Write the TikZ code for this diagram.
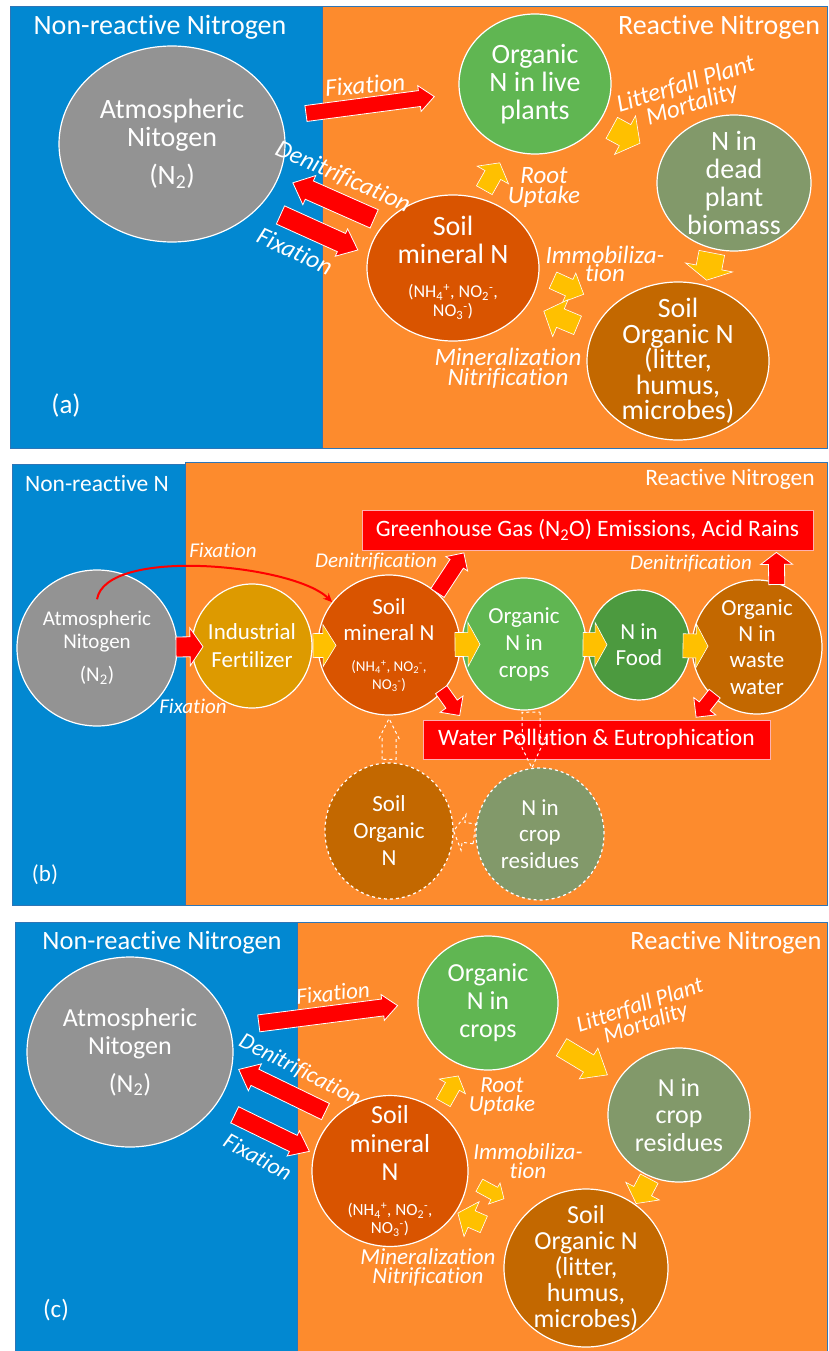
\documentclass[tikz,border=0pt]{standalone}
\usepackage{fontspec}
\setmainfont{Carlito}[Ligatures=NoCommon]
\usetikzlibrary{arrows.meta,calc,shapes.geometric}
\definecolor{nblue}{HTML}{0288D1}
\definecolor{rorange}{HTML}{FD8B2D}
\definecolor{frameblue}{HTML}{2E75B6}
\definecolor{atmgray}{HTML}{939393}
\definecolor{livegreen}{HTML}{60B652}
\definecolor{deadgreen}{HTML}{82996A}
\definecolor{minorange}{HTML}{D95400}
\definecolor{orgbrown}{HTML}{C36800}
\definecolor{fertgold}{HTML}{DD9A00}
\definecolor{foodgreen}{HTML}{4C9A3F}
\definecolor{flowred}{HTML}{FF0000}
\definecolor{flowyellow}{HTML}{FFC000}
\definecolor{boxedge}{HTML}{FFB0B0}

\newcommand\setfs[2]{\fontsize{#1}{#2}\selectfont}
% fat block arrow from one anchor to another, sizes come from the fa keys
\newcommand\flow[3][]{%
  \begin{scope}[#1]
    \coordinate (fa-a) at (#2);
    \coordinate (fa-b) at (#3);
    \coordinate (fa-s) at ($(fa-a)!\fagapa pt!(fa-b)$);
    \coordinate (fa-e) at ($(fa-b)!\fagapb pt!(fa-a)$);
    \coordinate (fa-h) at ($(fa-e)!\falen pt!(fa-s)$);
    \path[fa paint] ($(fa-s)!\fashaft pt!90:(fa-e)$) -- ($(fa-h)!\fashaft pt!90:(fa-e)$)
      -- ($(fa-h)!\fahead pt!90:(fa-e)$) -- (fa-e) -- ($(fa-h)!\fahead pt!-90:(fa-e)$)
      -- ($(fa-h)!\fashaft pt!-90:(fa-e)$) -- ($(fa-s)!\fashaft pt!-90:(fa-e)$) -- cycle;
  \end{scope}}

\begin{document}
\begin{tikzpicture}[x=1pt,y=-1pt,
  pool/.style={ellipse,draw=white,line width=1.2pt,inner sep=-12pt,text=white,align=center},
  dashpool/.style={pool,dashed},
  alertbox/.style={rectangle,draw=boxedge,line width=0.8pt,fill=flowred,text=white,inner sep=0pt},
  lbl/.style={text=white,inner sep=0pt,align=center},
  albl/.style={lbl,font=\itshape\setfs{25}{20}},
  blbl/.style={lbl,font=\itshape\setfs{21}{20}},
  clbl/.style={lbl,font=\itshape\setfs{23}{19}},
  ttl/.style={text=white,inner sep=0pt},
  fa gap1/.store in=\fagapa, fa gap2/.store in=\fagapb,
  fa shaft/.store in=\fashaft, fa head/.store in=\fahead, fa len/.store in=\falen,
  fa gap1=0, fa gap2=0, fa shaft=8, fa head=14, fa len=14,
  fa paint/.style={draw=white},
  redflow/.style={fa paint/.style={draw=white,line width=0.8pt,fill=flowred}},
  yellowflow/.style={fa paint/.style={draw=white,line width=0.6pt,fill=flowyellow}},
  dashflow/.style={fa paint/.style={draw=white,line width=1pt,dashed}}]

\useasboundingbox (0,0) rectangle (828,1351);
\fill[white] (0,0) rectangle (828,1351);

% ---------------- panel (a) ----------------
\fill[nblue] (10,7) rectangle (322,448);
\fill[rorange] (322,7) rectangle (828,448);
\draw[frameblue,line width=1pt] (10,7) rectangle (827.5,448) (322,7) -- (322,448);

\node[pool,fill=atmgray,minimum width=226pt,minimum height=196pt,font=\setfs{28}{28}] (atmA) at (172,144)
  {Atmospheric\\Nitogen\\[10pt](N\textsubscript{2})};
\node[pool,fill=livegreen,minimum width=152pt,minimum height=140pt,font=\setfs{28}{28}] (liveA) at (535,84)
  {Organic\\N in live\\plants};
\node[pool,fill=deadgreen,minimum width=154pt,minimum height=136pt,font=\setfs{28}{28}] (deadA) at (734,183)
  {N in\\dead\\plant\\biomass};
\node[pool,fill=minorange,minimum width=172pt,minimum height=146pt,font=\setfs{28}{28}] (minA) at (453,268)
  {Soil\\mineral N\\[6pt]{\setfs{18}{18}(NH\textsubscript{4}\textsuperscript{+}, NO\textsubscript{2}\textsuperscript{-},}\\[-9pt]{\setfs{18}{18}NO\textsubscript{3}\textsuperscript{-})}};
\node[pool,fill=orgbrown,minimum width=182pt,minimum height=158pt,font=\setfs{28}{25.5}] (orgA) at (678,361)
  {Soil\\Organic N\\(litter,\\humus,\\microbes)};

\flow[redflow,fa gap1=25,fa gap2=25,fa shaft=8,fa head=13,fa len=15]{atmA.14}{liveA.187}
\flow[redflow,fa gap1=11,fa gap2=15,fa shaft=10,fa head=16,fa len=18]{minA.147}{atmA.-17}
\flow[redflow,fa gap1=22,fa gap2=11,fa shaft=10,fa head=15,fa len=18]{atmA.-35}{minA.171}
\flow[yellowflow,fa gap1=13.5,fa gap2=26,fa shaft=12,fa head=22,fa len=17]{liveA.-30}{deadA.159}
\flow[yellowflow,fa gap1=9,fa gap2=15,fa shaft=9,fa head=18,fa len=14]{minA.69}{liveA.-113}
\flow[yellowflow,fa gap1=15,fa gap2=30,fa shaft=9,fa head=16,fa len=16]{minA.-4}{orgA.141}
\flow[yellowflow,fa gap1=16.5,fa gap2=17,fa shaft=10,fa head=20,fa len=18]{orgA.161}{minA.-26}
\flow[yellowflow,fa gap1=4,fa gap2=5,fa shaft=13,fa head=24,fa len=13]{deadA.-108}{orgA.70}

\node[albl,rotate=5] (fxA1) at (365,85) {Fixation};
\node[albl,rotate=-24] (dnA) at (343,177) {Denitrification};
\node[albl,rotate=-25] (fxA2) at (295,251) {Fixation};
\node[albl] (ruA) at (544,187) {Root\\Uptake};
\node[albl,rotate=17] (lfA) at (689,95) {Litterfall Plant\\Mortality};
\node[albl,font=\itshape\setfs{25}{18}] (imA) at (605,264) {Immobiliza-\\tion};
\node[albl] (mnA) at (508,368) {Mineralization\\Nitrification};

\node[ttl,font=\setfs{28}{28}] (nrA) at (160,27) {Non-reactive Nitrogen};
\node[ttl,font=\setfs{28}{28}] (rnA) at (719,27) {Reactive Nitrogen};
\node[ttl,font=\setfs{27}{27}] (tagA) at (66,405) {(a)};

% ---------------- panel (b) ----------------
\fill[nblue] (12,464) rectangle (185,905);
\fill[rorange] (185,462) rectangle (828,905);
\draw[frameblue,line width=1pt] (12,905) -- (12,464) -- (185,464) (185,905) -- (185,462) -- (827.5,462)
  -- (827.5,905) -- (12,905);

\node[alertbox,minimum width=451pt,minimum height=40pt,font=\setfs{23.5}{24}] (ghgB) at (587.5,530)
  {Greenhouse Gas (N\textsubscript{2}O) Emissions, Acid Rains};
\node[alertbox,minimum width=347pt,minimum height=39pt,font=\setfs{23.5}{24}] (waterB) at (596.5,739.5)
  {Water Pollution \& Eutrophication};

\node[pool,fill=atmgray,minimum width=160pt,minimum height=156pt,font=\setfs{21}{23}] (atmB) at (97,648)
  {Atmospheric\\Nitogen\\[10pt](N\textsubscript{2})};
\node[pool,fill=fertgold,minimum width=120pt,minimum height=124pt,font=\setfs{23}{28}] (fertB) at (252,646)
  {Industrial\\Fertilizer};
\node[pool,fill=minorange,minimum width=142pt,minimum height=140pt,font=\setfs{23}{26}] (minB) at (389,645)
  {Soil\\mineral N\\[5pt]{\setfs{15}{15}(NH\textsubscript{4}\textsuperscript{+}, NO\textsubscript{2}\textsuperscript{-},}\\[-8pt]{\setfs{15}{15}NO\textsubscript{3}\textsuperscript{-})}};
\node[pool,fill=livegreen,minimum width=124pt,minimum height=132pt,font=\setfs{23}{27}] (cropB) at (524,644)
  {Organic\\N in\\crops};
\node[pool,fill=foodgreen,minimum width=102pt,minimum height=110pt,font=\setfs{23}{26}] (foodB) at (639,645)
  {N in\\Food};
\node[pool,fill=orgbrown,minimum width=130pt,minimum height=134pt,font=\setfs{23}{26.3}] (wasteB) at (757,647)
  {Organic\\N in\\waste\\water};
\node[dashpool,fill=orgbrown,minimum width=128pt,minimum height=136pt,font=\setfs{23}{27}] (sorgB) at (389,831)
  {Soil\\Organic\\N};
\node[dashpool,fill=deadgreen,minimum width=128pt,minimum height=132pt,font=\setfs{23}{26.5}] (resB) at (540,834)
  {N in\\crop\\residues};

\flow[redflow,fa gap1=79,fa gap2=49,fa shaft=10,fa head=19,fa len=13]{atmB}{fertB}
\flow[yellowflow,fa gap1=61,fa gap2=53,fa shaft=12,fa head=21,fa len=13]{fertB}{minB}
\flow[yellowflow,fa gap1=66,fa gap2=44,fa shaft=12,fa head=22,fa len=12]{minB}{cropB}
\flow[yellowflow,fa gap1=59,fa gap2=32,fa shaft=12,fa head=22,fa len=12]{cropB}{foodB}
\flow[yellowflow,fa gap1=44,fa gap2=49,fa shaft=12,fa head=22,fa len=12]{foodB}{wasteB}
\flow[redflow,fa gap1=0,fa gap2=3,fa shaft=8,fa head=13,fa len=13]{minB.47}{$(ghgB.south west)!0.23!(ghgB.south east)$}
\flow[redflow,fa gap1=-2.5,fa gap2=5,fa shaft=7,fa head=14,fa len=14]{minB.-41}{$(waterB.north west)!0.115!(waterB.north east)$}
\flow[redflow,fa gap1=-2,fa gap2=2,fa shaft=8,fa head=16,fa len=12]{wasteB.73}{$(ghgB.south west)!0.918!(ghgB.south east)$}
\flow[redflow,fa gap1=-3.7,fa gap2=3,fa shaft=7,fa head=14,fa len=14]{wasteB.-132}{$(waterB.north west)!0.781!(waterB.north east)$}
\flow[dashflow,fa gap1=2,fa gap2=0,fa shaft=9,fa head=14,fa len=30]{cropB.-84}{resB.97}
\flow[dashflow,fa gap1=3,fa gap2=3,fa shaft=7,fa head=10,fa len=20]{sorgB.north}{minB.south}
\flow[dashflow,fa gap1=1,fa gap2=0,fa shaft=10,fa head=18,fa len=10]{resB.west}{sorgB.east}

\coordinate (fxB0) at ($(atmB.center)!0.62!(atmB.north)$);
\draw[flowred,line width=2pt,-{Stealth[length=9pt,width=8pt]}] (fxB0)
  .. controls ($(fxB0)+(9,-53)$) and ($(minB.143)+(-38,-38)$) .. (minB.143);

\node[blbl] (fxB1) at (223,550) {Fixation};
\node[blbl] (dnB1) at (376,562) {Denitrification};
\node[blbl] (fxB2) at (193,706) {Fixation};
\node[blbl] (dnB2) at (691,564) {Denitrification};

\node[ttl,font=\setfs{23.5}{24}] (nrB) at (97,483) {Non-reactive N};
\node[ttl,font=\setfs{23.5}{24}] (rnB) at (730,479) {Reactive Nitrogen};
\node[ttl,font=\setfs{23}{23}] (tagB) at (45,875) {(b)};

% ---------------- panel (c) ----------------
\fill[nblue] (15,922) rectangle (297,1351);
\fill[rorange] (297,922) rectangle (828,1351);
\draw[frameblue,line width=1pt] (15,1351) -- (15,922) -- (827.5,922) -- (827.5,1351) (297,922) -- (297,1351);

\node[pool,fill=atmgray,minimum width=206pt,minimum height=190pt,font=\setfs{26}{28}] (atmC) at (130,1052)
  {Atmospheric\\Nitogen\\[10pt](N\textsubscript{2})};
\node[pool,fill=livegreen,minimum width=140pt,minimum height=134pt,font=\setfs{26}{28}] (cropC) at (488,1003)
  {Organic\\N in\\crops};
\node[pool,fill=deadgreen,minimum width=142pt,minimum height=134pt,font=\setfs{26}{27.5}] (resC) at (679,1115)
  {N in\\crop\\residues};
\node[pool,fill=minorange,minimum width=156pt,minimum height=142pt,font=\setfs{26}{28.5}] (minC) at (390,1171)
  {Soil\\mineral\\N\\[6.5pt]{\setfs{17}{17}(NH\textsubscript{4}\textsuperscript{+}, NO\textsubscript{2}\textsuperscript{-},}\\[-10.5pt]{\setfs{17}{17}NO\textsubscript{3}\textsuperscript{-})}};
\node[pool,fill=orgbrown,minimum width=164pt,minimum height=158pt,font=\setfs{26}{26}] (orgC) at (586,1268)
  {Soil\\Organic N\\(litter,\\humus,\\microbes)};

\flow[redflow,fa gap1=29,fa gap2=20,fa shaft=8.5,fa head=13,fa len=15]{atmC.14}{cropC.west}
\flow[redflow,fa gap1=11,fa gap2=7,fa shaft=9,fa head=15,fa len=18]{minC.135.5}{atmC.-8}
\flow[redflow,fa gap1=21,fa gap2=4.6,fa shaft=9,fa head=14,fa len=18]{atmC.-32}{minC.167}
\flow[yellowflow,fa gap1=9.7,fa gap2=10.9,fa shaft=8,fa head=15,fa len=12]{minC.51}{cropC.-111}
\flow[yellowflow,fa gap1=16,fa gap2=11.5,fa shaft=10,fa head=18,fa len=22]{cropC.-31}{resC.151}
\flow[yellowflow,fa gap1=2,fa gap2=1,fa shaft=10,fa head=19,fa len=14]{resC.-115}{orgC.52}
\flow[yellowflow,fa gap1=12.7,fa gap2=27,fa shaft=7,fa head=12,fa len=11]{minC.-6}{orgC.136.5}
\flow[yellowflow,fa gap1=29,fa gap2=2,fa shaft=9,fa head=19,fa len=15]{orgC.157}{minC.-32}

\node[clbl,rotate=6] (fxC1) at (333,993) {Fixation};
\node[clbl,rotate=-27] (dnC) at (300,1070) {Denitrification};
\node[clbl,rotate=-29] (fxC2) at (258,1157) {Fixation};
\node[clbl] (ruC) at (502,1096) {Root\\Uptake};
\node[clbl,rotate=18] (lfC) at (643,1015) {Litterfall Plant\\Mortality};
\node[clbl] (imC) at (528,1161) {Immobiliza-\\tion};
\node[clbl] (mnC) at (428,1267) {Mineralization\\Nitrification};

\node[ttl,font=\setfs{26.5}{27}] (nrC) at (162,943) {Non-reactive Nitrogen};
\node[ttl,font=\setfs{26.5}{27}] (rnC) at (726,943) {Reactive Nitrogen};
\node[ttl,font=\setfs{25}{25}] (tagC) at (56,1310) {(c)};

\end{tikzpicture}
\end{document}
